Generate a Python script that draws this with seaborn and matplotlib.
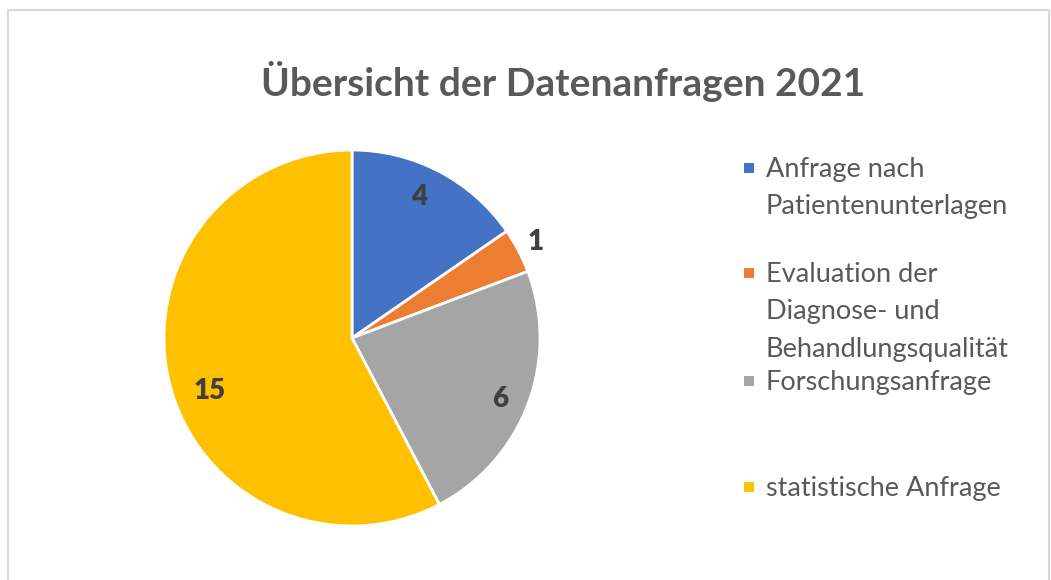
import numpy as np
import matplotlib
matplotlib.use("Agg")
import matplotlib.pyplot as plt
from matplotlib.patches import Rectangle
import seaborn as sns

# Data
categories = ["Anfrage nach\nPatientenunterlagen",
              "Evaluation der\nDiagnose- und\nBehandlungsqualität",
              "Forschungsanfrage",
              "statistische Anfrage"]
values = [4, 1, 6, 15]
colors = ["#4472C4", "#ED7D31", "#A5A5A5", "#FFC000"]
title = "Übersicht der Datenanfragen 2021"

sns.set_theme(style="white")
plt.rcParams["font.family"] = ["Lato", "DejaVu Sans"]

W, H = 1051, 580
fig = plt.figure(figsize=(W / 100, H / 100), dpi=100)

# border
fig.patches.append(Rectangle((8 / W, -0.05), (1049 - 8) / W, 1 - 10 / H + 0.05,
                             transform=fig.transFigure, fill=False,
                             edgecolor="#D9D9D9", linewidth=1.5))

cx, cy, R = 352, 338, 188
ax = fig.add_axes([(cx - R) / W, (H - cy - R) / H, 2 * R / W, 2 * R / H])
wedges, _ = ax.pie(values, colors=colors, startangle=90, counterclock=False,
                   wedgeprops=dict(edgecolor="white", linewidth=2))
ax.set_xlim(-1, 1)
ax.set_ylim(-1, 1)
ax.set_aspect("equal")
ax.axis("off")

label_dist = [0.83, 1.1, 0.85, 0.81]
label_shift = [2.0, 0.0, -1.5, 6.7]  # degrees, best-fit placement
for w, v, d, s in zip(wedges, values, label_dist, label_shift):
    ang = np.deg2rad((w.theta1 + w.theta2) / 2 + s)
    ax.text(d * np.cos(ang), d * np.sin(ang), str(v), ha="center", va="center",
            fontsize=20, fontweight="heavy", color="#404040")

fig.text(563 / W, 1 - 82 / H, title, ha="center", va="center",
         fontsize=28, fontweight="bold", color="#595959")

# legend
marker_y = [168, 273, 381, 487]
for lab, col, y in zip(categories, colors, marker_y):
    fig.patches.append(Rectangle(((749 - 5) / W, 1 - (y + 5) / H), 10 / W, 10 / H,
                                 transform=fig.transFigure, facecolor=col,
                                 edgecolor="none"))
    fig.text(766 / W, 1 - (y - 11) / H, lab, ha="left", va="top",
             fontsize=19.5, color="#595959", linespacing=1.62)

fig.savefig("out.png", dpi=100)
